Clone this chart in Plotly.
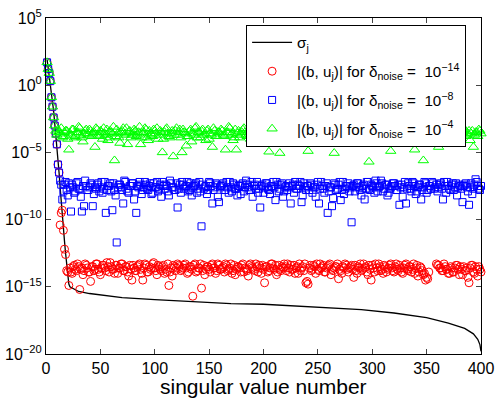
import plotly.graph_objects as go

# ---------------- data (log10 values) ----------------
sigma_j = [1, 2, 3, 4, 5, 6, 7, 8, 9, 10, 11, 12, 13, 14, 15, 16, 17, 18, 19, 20,
           21, 22, 25, 30, 40, 50, 70, 100, 130, 170, 200, 250, 290, 320, 350,
           370, 385, 393, 397, 399, 400]
sigma_log = [1.9, 1.3, 0.9, 0.3, -0.5, -1.2, -1.9, -2.8, -3.6, -4.4, -5.4, -6.5,
             -7.6, -8.8, -9.8, -10.7, -11.6, -12.5, -13.4, -14.2, -14.8, -15.0,
             -15.15, -15.35, -15.5, -15.6, -15.8, -15.95, -16.1, -16.25, -16.3,
             -16.5, -16.7, -16.95, -17.3, -17.7, -18.1, -18.5, -18.9, -19.3, -19.8]

j_odd = list(range(1, 400, 2))
j_even = list(range(2, 401, 2))

red_odd = [
    1.7, 0.9, -0.9, -2.4, -3.6, -5.9, -10.4, -9.3, -12.2, -13.8, -14.9, -13.9, -13.5, -13.7, -13.3, -15.2, -13.6, -13.8, -13.4, -13.9,
    -14.6, -13.5, -13.7, -13.3, -13.9, -13.6, -13.4, -13.8, -13.5, -13.2, -13.7, -14.0, -13.4, -13.6, -13.3, -13.8, -13.5, -13.9, -13.4, -14.5,
    -13.6, -13.8, -13.4, -13.7, -14.5, -13.3, -13.9, -13.5, -13.6, -13.2, -13.8, -13.4, -13.7, -13.5, -14.0, -13.9, -14.9, -13.6, -13.4, -13.8,
    -13.3, -13.5, -13.7, -13.4, -13.6, -13.9, -13.5, -15.7, -13.3, -13.8, -13.6, -15.1, -13.4, -13.7, -13.5, -13.9, -13.3, -13.6, -13.8, -13.4,
    -13.7, -13.5, -13.3, -13.8, -13.6, -14.0, -13.4, -13.7, -13.5, -13.9, -13.3, -13.6, -13.8, -13.4, -13.5, -13.7, -13.3, -13.9, -13.6, -13.4,
    -14.7, -13.5, -13.8, -13.3, -13.6, -13.4, -13.9, -13.7, -13.5, -13.3, -13.8, -13.6, -13.4, -13.7, -14.0, -13.5, -13.3, -13.6, -13.8, -14.7,
    -14.8, -13.4, -13.7, -13.5, -13.3, -13.8, -13.6, -13.4, -13.9, -13.5, -13.3, -13.7, -13.6, -13.5, -14.4, -13.8, -13.5, -13.3, -13.7, -13.6,
    -13.4, -14.3, -13.8, -13.5, -13.3, -13.7, -13.6, -13.9, -13.4, -14.5, -13.6, -13.3, -13.8, -13.5, -13.7, -13.4, -13.9, -13.6, -13.3, -13.8,
    -13.5, -13.7, -13.4, -13.9, -13.6, -13.3, -13.8, -13.5, -13.7, -14.0, -13.4, -13.9, -13.6, -14.1, -14.5, -14.4, None, None, None, -13.3,
    -13.4, -13.6, -13.8, -13.5, -13.7, -14.0, -13.6, -13.9, -13.4, -13.7, -13.5, -14.1, -13.8, -13.6, -14.7, -13.4, -13.9, -13.5, -14.2, -13.7,
]
red_even = [
    1.2, 0.3, -1.6, -3.0, -4.4, -6.5, -9.5, -10.8, -12.6, -13.9, -13.6, -14.0, -13.4, -13.8, -13.5, -13.7, -14.1, -13.3, -13.6, -13.9,
    -13.5, -13.8, -13.3, -13.7, -14.1, -13.4, -13.6, -13.2, -13.9, -13.5, -13.7, -13.4, -14.0, -13.6, -13.3, -13.8, -13.5, -14.2, -13.7, -13.4,
    -13.8, -13.5, -13.3, -14.0, -13.6, -13.4, -13.9, -13.7, -13.3, -13.6, -14.1, -13.5, -13.8, -13.4, -13.7, -13.3, -13.9, -14.2, -13.5, -13.6,
    -13.4, -13.8, -13.6, -13.3, -14.0, -13.5, -13.7, -13.4, -13.9, -13.6, -13.3, -13.8, -14.1, -13.5, -13.7, -13.4, -13.6, -14.0, -13.3, -13.7,
    -13.6, -13.9, -13.4, -13.7, -13.3, -13.8, -14.1, -13.5, -13.6, -13.4, -13.9, -13.7, -14.2, -13.3, -13.6, -13.8, -13.5, -13.4, -14.0, -13.7,
    -13.5, -13.9, -13.6, -13.3, -13.7, -14.1, -13.4, -13.8, -13.6, -13.5, -13.3, -13.9, -13.7, -13.4, -13.6, -14.0, -13.8, -13.5, -13.3, -14.6,
    -13.6, -13.8, -13.4, -14.0, -13.7, -13.3, -13.5, -13.9, -13.6, -13.4, -14.1, -13.8, -13.5, -13.3, -13.7, -14.0, -13.6, -13.4, -13.9, -13.5,
    -13.7, -13.4, -14.0, -13.6, -13.8, -13.3, -13.5, -14.1, -13.7, -13.4, -13.9, -13.6, -13.3, -13.8, -14.0, -13.5, -13.7, -13.4, -13.6, -13.9,
    -13.3, -13.8, -13.6, -14.0, -13.4, -13.7, -13.5, -13.9, -13.3, -13.6, -14.2, -13.5, -13.8, -14.0, -14.3, -13.9, None, None, None, -13.4,
    -13.6, -13.8, -13.3, -13.7, -14.0, -13.5, -13.9, -13.6, -13.4, -14.1, -13.7, -13.5, -13.8, -14.3, -13.6, -13.4, -14.0, -13.7, -13.5, -13.9,
]

blue_odd = [
    1.7, 0.9, -0.9, -2.4, -3.6, -5.9, -7.1, -8.5, -7.4, -7.8, -7.3, -9.4, -7.6, -7.9, -7.2, -7.7, -9.4, -9.0, -7.5, -7.8,
    -7.3, -9.0, -7.6, -7.4, -7.9, -7.2, -7.7, -9.5, -7.5, -7.3, -9.3, -7.8, -11.7, -7.4, -7.6, -8.8, -7.2, -7.9, -7.5, -7.3,
    -8.5, -9.5, -7.6, -7.4, -7.8, -7.2, -7.7, -7.5, -8.1, -7.3, -7.6, -7.9, -7.4, -7.2, -7.7, -7.5, -8.2, -7.3, -7.6, -7.8,
    -9.1, -7.4, -7.2, -7.7, -7.5, -7.9, -7.3, -7.6, -7.4, -8.0, -7.2, -10.5, -7.7, -7.5, -7.8, -7.3, -8.8, -7.6, -7.4, -8.7,
    -7.5, -7.3, -7.8, -7.6, -7.2, -7.9, -7.4, -7.7, -7.5, -8.1, -7.3, -7.6, -7.4, -7.8, -7.2, -7.5, -7.7, -8.0, -9.1, -7.4,
    -7.6, -7.3, -7.8, -7.5, -7.2, -8.55, -7.4, -7.7, -7.3, -7.9, -7.5, -7.6, -8.8, -7.4, -7.2, -7.7, -7.5, -8.7, -7.3, -7.8,
    -7.5, -7.3, -8.0, -7.6, -7.4, -8.8, -7.2, -7.7, -7.5, -9.5, -7.6, -9.0, -7.3, -7.8, -7.4, -8.55, -7.2, -7.7, -7.5, -7.9,
    -10.2, -7.4, -7.6, -7.3, -7.8, -7.5, -8.5, -7.2, -7.7, -7.4, -7.6, -7.1, -7.9, -7.5, -7.3, -7.7, -7.4, -8.0, -7.6, -7.3,
    -7.5, -7.8, -8.9, -7.4, -7.6, -8.8, -7.3, -7.7, -7.2, -7.5, -7.9, -7.4, -8.5, -7.6, -7.3, -7.8, -7.5, -7.2, -7.7, -7.4,
    -7.6, -7.3, -8.5, -7.5, -7.2, -7.7, -7.4, -7.8, -7.3, -7.6, -7.5, -8.7, -7.4, -7.6, -8.9, -7.3, -7.7, -7.0, -7.5, -7.8,
]
blue_even = [
    1.2, 0.3, -1.6, -3.0, -4.4, -6.5, -7.4, -7.9, -7.2, -8.2, -7.6, -7.4, -8.0, -7.3, -7.7, -8.3, -7.5, -7.1, -7.8, -7.6,
    -7.4, -8.1, -7.7, -7.3, -7.6, -8.0, -7.2, -7.8, -7.5, -7.9, -7.3, -8.2, -7.6, -7.4, -7.8, -7.1, -7.7, -8.0, -7.5, -7.3,
    -7.9, -7.5, -7.2, -8.1, -7.6, -7.4, -7.8, -7.3, -8.0, -7.6, -7.2, -7.7, -8.3, -7.5, -7.4, -7.9, -7.1, -7.6, -7.8, -7.3,
    -7.7, -8.0, -7.4, -7.6, -7.2, -7.8, -8.2, -7.5, -7.3, -7.7, -7.9, -7.4, -7.6, -8.1, -7.2, -7.5, -7.8, -7.3, -8.3, -7.6,
    -7.4, -7.8, -7.2, -8.0, -7.6, -7.3, -7.7, -8.2, -7.5, -7.4, -7.9, -7.1, -7.6, -7.8, -8.3, -7.4, -7.2, -7.7, -7.5, -8.0,
    -7.3, -7.7, -8.1, -7.5, -7.6, -7.2, -7.9, -7.4, -8.3, -7.6, -7.8, -7.3, -7.5, -8.0, -7.7, -7.4, -7.2, -8.2, -7.6, -7.5,
    -7.8, -7.4, -7.6, -8.3, -7.2, -7.7, -7.5, -8.0, -7.3, -7.9, -7.6, -8.4, -7.4, -7.7, -7.2, -7.8, -8.1, -7.5, -7.3, -7.6,
    -7.5, -7.9, -7.3, -7.6, -8.2, -7.4, -7.7, -7.2, -7.8, -7.5, -8.0, -7.3, -7.6, -7.1, -7.9, -7.4, -8.2, -7.7, -7.5, -7.3,
    -7.8, -7.4, -7.6, -8.3, -7.2, -7.7, -7.5, -7.9, -7.3, -8.1, -7.6, -7.4, -7.8, -7.2, -8.0, -7.5, -7.7, -7.3, -7.6, -7.9,
    -7.4, -7.7, -7.2, -8.0, -7.5, -7.8, -7.3, -7.6, -8.2, -7.4, -7.7, -7.5, -7.3, -7.9, -7.6, -8.1, -7.4, -7.2, -7.7, -7.5,
]

green_odd = [
    1.7, 0.9, -0.9, -2.4, -3.4, -3.3, -3.6, -3.9, -3.5, -3.4, -4.8, -3.7, -3.3, -3.8, -3.5, -3.2, -3.9, -3.6, -3.3, -3.7,
    -3.4, -3.6, -4.6, -3.3, -3.8, -3.5, -3.2, -3.7, -4.1, -3.4, -3.6, -5.6, -3.3, -3.9, -3.5, -3.2, -3.6, -4.4, -3.4, -3.7,
    -3.3, -3.8, -3.5, -4.4, -3.6, -3.2, -3.9, -3.4, -3.7, -3.3, -3.6, -4.0, -3.4, -5.0, -3.5, -3.2, -3.8, -3.6, -5.3, -3.4,
    -3.7, -3.3, -5.0, -3.5, -4.5, -3.8, -3.3, -3.6, -3.2, -3.9, -3.5, -3.4, -3.7, -4.1, -3.3, -3.6, -4.6, -3.4, -3.8, -3.5,
    -3.3, -3.7, -4.8, -3.5, -3.2, -3.6, -3.9, -4.8, -3.4, -3.7, -3.3, -3.5, -3.8, -3.6, -3.2, -3.4, -3.9, -3.5, -3.7, -3.3,
    -3.6, -3.4, -4.95, -3.8, -3.5, -3.3, -3.7, -5.05, -3.6, -3.4, -3.2, -3.8, -3.5, -3.7, -3.3, -3.6, -3.4, -3.9, -3.5, -3.3,
    -4.9, -3.6, -3.4, -3.8, -4.2, -3.5, -3.3, -3.7, -3.6, -3.4, -3.2, -3.8, -5.05, -3.5, -3.7, -3.3, -3.6, -4.1, -3.4, -3.8,
    -3.5, -3.3, -3.7, -3.6, -3.4, -3.9, -3.2, -3.5, -5.7, -3.6, -3.4, -3.8, -3.3, -3.7, -3.5, -3.6, -3.2, -3.8, -4.9, -3.4,
    -3.6, -3.3, -3.7, -3.5, -3.4, -3.8, -3.2, -3.6, -3.4, -4.8, -3.5, -3.7, -3.3, -5.6, -3.6, -3.4, -3.8, -3.5, -3.3, -3.7,
    -4.6, -3.4, -3.6, -3.3, -3.8, -3.5, -3.7, -3.2, -3.6, -3.4, -3.9, -3.5, -3.3, -3.7, -3.4, -3.6, -4.6, -3.5, -3.8, -3.4,
]
green_even = [
    1.2, 0.3, -1.6, -3.0, -3.7, -3.5, -3.2, -3.8, -3.4, -4.0, -3.6, -3.3, -3.9, -3.5, -3.1, -3.7, -4.2, -3.4, -3.6, -3.3,
    -3.8, -3.5, -3.2, -3.7, -3.4, -4.0, -3.6, -3.3, -3.9, -3.5, -3.1, -3.8, -3.6, -4.3, -3.4, -3.7, -3.2, -3.5, -3.9, -3.6,
    -3.4, -3.7, -3.1, -3.9, -3.5, -3.3, -4.1, -3.6, -3.8, -3.4, -3.2, -3.7, -3.5, -4.0, -3.3, -3.6, -3.9, -3.4, -3.7, -3.2,
    -3.5, -3.9, -3.3, -3.6, -3.8, -3.4, -4.2, -3.7, -3.1, -3.5, -3.9, -3.3, -3.6, -3.4, -4.0, -3.7, -3.2, -3.8, -3.5, -3.6,
    -3.4, -3.8, -3.5, -3.1, -3.7, -4.1, -3.3, -3.6, -3.9, -3.5, -3.2, -3.7, -3.4, -4.0, -3.6, -3.3, -3.8, -3.5, -3.1, -3.7,
    -3.5, -3.8, -3.3, -3.6, -4.1, -3.4, -3.7, -3.2, -3.9, -3.5, -3.6, -3.3, -4.0, -3.7, -3.4, -3.8, -3.2, -3.6, -3.5, -3.9,
    -3.4, -3.7, -3.3, -4.2, -3.6, -3.5, -3.8, -3.2, -3.6, -3.9, -3.4, -3.7, -3.3, -4.0, -3.5, -3.6, -3.2, -3.8, -3.4, -3.7,
    -3.6, -3.4, -3.9, -3.2, -3.7, -3.5, -4.1, -3.3, -3.6, -3.8, -3.4, -3.5, -3.9, -3.2, -3.7, -3.6, -4.0, -3.4, -3.5, -3.8,
    -3.4, -3.7, -3.5, -4.1, -3.3, -3.6, -3.9, -3.2, -3.7, -3.5, -3.4, -4.0, -3.6, -3.8, -3.3, -3.5, -3.9, -3.6, -3.2, -3.7,
    -3.5, -3.8, -3.3, -3.6, -4.0, -3.4, -3.7, -3.2, -3.6, -3.9, -3.5, -3.3, -3.8, -3.6, -4.1, -3.4, -3.7, -3.5, -3.3, -3.6,
]

x_ticks = [0, 50, 100, 150, 200, 250, 300, 350, 400]
x_title = "singular value number"
y_tick_exp = [-20, -15, -10, -5, 0, 5]
y_tick_text = ["10<sup>\u221220</sup>", "10<sup>\u221215</sup>", "10<sup>\u221210</sup>",
               "10<sup>\u22125</sup>", "10<sup>0</sup>", "10<sup>5</sup>"]

legend_names = [
    "\u03c3<sub>j</sub>",
    "|(b, u<sub>j</sub>)| for \u03b4<sub>noise</sub> =  10<sup>\u221214</sup>",
    "|(b, u<sub>j</sub>)| for \u03b4<sub>noise</sub> =  10<sup>\u22128</sup>",
    "|(b, u<sub>j</sub>)| for \u03b4<sub>noise</sub> =  10<sup>\u22124</sup>",
]


def merge(xo, vo, xe, ve):
    pts = sorted(list(zip(xo, vo)) + list(zip(xe, ve)))
    return [p[0] for p in pts], [None if p[1] is None else 10 ** p[1] for p in pts]


FONT = "Liberation Sans, Arial, Helvetica, sans-serif"

fig = go.Figure()
fig.add_trace(go.Scatter(x=sigma_j, y=[10 ** v for v in sigma_log], mode="lines",
                         line=dict(color="black", width=1.3), name=legend_names[0],
                         legendgroup="a"))
series = [(red_odd, red_even, "circle-open", 8, "#ff0000", "b"),
          (blue_odd, blue_even, "square-open", 7, "#0000ff", "c"),
          (green_odd, green_even, "triangle-up-open", 9, "#00ff00", "d")]
for i, (vo, ve, sym, sz, col, grp) in enumerate(series):
    xs, ys = merge(j_odd, vo, j_even, ve)
    fig.add_trace(go.Scatter(x=xs, y=ys, mode="markers", cliponaxis=False,
                             marker=dict(symbol=sym, size=sz, color=col, line=dict(width=1)),
                             name=legend_names[i + 1], legendgroup=grp))

fig.update_layout(
    width=496, height=398,
    margin=dict(l=46, r=15, t=18, b=44, autoexpand=False),
    paper_bgcolor="white", plot_bgcolor="white",
    font=dict(family=FONT, size=16, color="black"),
    showlegend=True,
    legend=dict(x=0.46, y=0.979, xanchor="left", yanchor="top",
                bgcolor="white", bordercolor="black", borderwidth=1,
                font=dict(size=15.2, family=FONT), itemwidth=40,
                tracegroupgap=6),
    annotations=[dict(text=x_title, xref="paper", yref="paper", x=0.5, y=-0.138,
                      xanchor="center", yanchor="bottom", showarrow=False,
                      font=dict(size=21, family=FONT, color="black"))],
)
fig.update_xaxes(range=[0, 400], tickvals=x_ticks, ticks="inside", ticklen=5,
                 showline=True, linecolor="black", linewidth=1, mirror="ticks",
                 showgrid=False, zeroline=False, automargin=False,
                 tickfont=dict(size=16))
fig.update_yaxes(type="log", range=[-20, 5], tickvals=[10 ** e for e in y_tick_exp],
                 ticktext=y_tick_text, ticks="inside", ticklen=5,
                 showline=True, linecolor="black", linewidth=1, mirror="ticks",
                 showgrid=False, zeroline=False, automargin=False, tickfont=dict(size=16))

fig.write_html("out.html", config={"displayModeBar": False},
               post_script="document.body.style.margin='0';document.body.style.overflow='hidden';")
